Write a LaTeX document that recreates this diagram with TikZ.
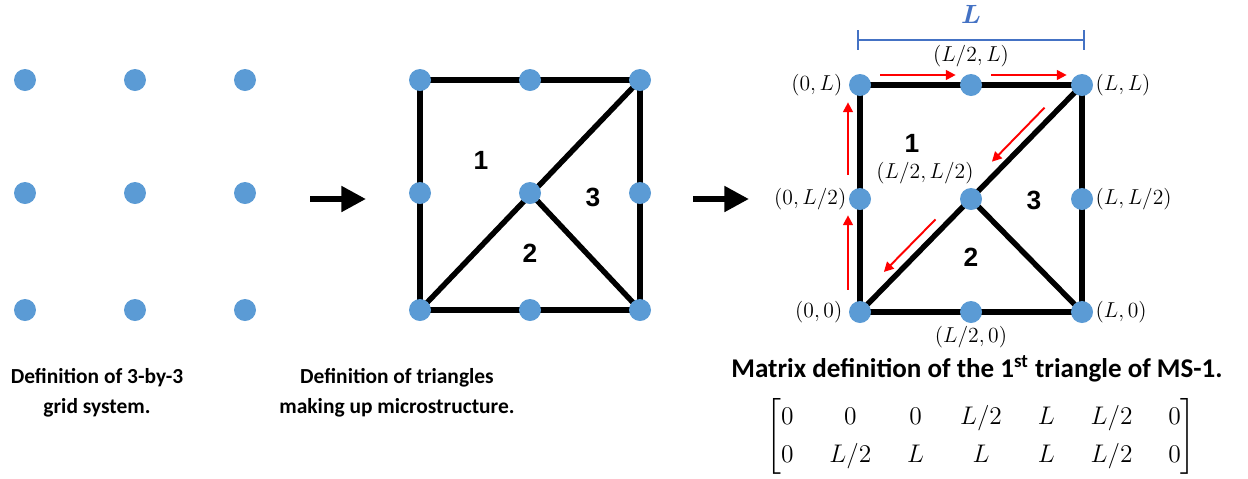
\RequirePackage{fix-cm}
\documentclass[tikz,border=0pt]{standalone}
\usepackage{amsmath}
\usepackage[no-math]{fontspec}
\newfontfamily\calibri{Carlito}
\newfontfamily\arialfont{Liberation Sans}
\usetikzlibrary{
  positioning,
  arrows.meta,
  backgrounds
}
\definecolor{dotblue}{RGB}{91,155,213}
\definecolor{dimblue}{RGB}{68,114,196}

\begin{document}
\begin{tikzpicture}[
  x=0.02cm, y=-0.02cm,
  dot/.style={circle, fill=dotblue, minimum size=0.44cm, inner sep=0pt},
  edge/.style={line width=3.1pt, black},
  num/.style={font=\arialfont\bfseries\fontsize{15}{18}\selectfont},
  coord/.style={inner sep=0pt, font=\fontsize{12.3}{14}\selectfont},
  caption/.style={align=center, font=\calibri\bfseries\fontsize{12.2}{16.8}\selectfont},
  bigarrow/.style={line width=3.4pt, -{Triangle[length=14pt, width=14pt]}},
  redarrow/.style={red, line width=1.1pt, -{Triangle[length=5.5pt, width=5.5pt]}}
]
  \useasboundingbox (0,0) rectangle (1248,478);

  % 3-by-3 grid
  \node[dot] (g11) at (25,80) {};
  \node[dot] (g21) at (135,80) {};
  \node[dot] (g31) at (245,80) {};
  \node[dot] (g12) at (25,193) {};
  \node[dot] (g22) at (135,193) {};
  \node[dot] (g32) at (245,193) {};
  \node[dot] (g13) at (25,310) {};
  \node[dot] (g23) at (135,310) {};
  \node[dot] (g33) at (245,310) {};
  \node[caption] (cap1) at (97,393) {Definition of 3-by-3\\grid system.};

  \coordinate (a1s) at (310,199);
  \coordinate (a1e) at (366,199);
  \draw[bigarrow] (a1s) -- (a1e);

  % triangles
  \node[dot] (m0L) at (420,80) {};
  \node[dot] (mhL) at (530,80) {};
  \node[dot] (mLL) at (640,80) {};
  \node[dot] (m0h) at (420,193) {};
  \node[dot] (mhh) at (530,193) {};
  \node[dot] (mLh) at (640,193) {};
  \node[dot] (m00) at (420,310) {};
  \node[dot] (mh0) at (530,310) {};
  \node[dot] (mL0) at (640,310) {};
  \begin{scope}[on background layer]
    \draw[edge] (m0L.center) -- (mLL.center) -- (mL0.center) -- (m00.center) -- cycle;
    \draw[edge] (m00.center) -- (mLL.center);
    \draw[edge] (mhh.center) -- (mL0.center);
  \end{scope}
  \node[num] (mn1) at (481,160) {1};
  \node[num] (mn2) at (530,253) {2};
  \node[num] (mn3) at (593,197) {3};
  \node[caption] (cap2) at (397,393) {Definition of triangles\\making up microstructure.};

  \coordinate (a2s) at (693,199);
  \coordinate (a2e) at (749,199);
  \draw[bigarrow] (a2s) -- (a2e);

  % matrix definition
  \node[dot] (r0L) at (860,85) {};
  \node[dot] (rhL) at (971,85) {};
  \node[dot] (rLL) at (1082,85) {};
  \node[dot] (r0h) at (860,199) {};
  \node[dot] (rhh) at (971,199) {};
  \node[dot] (rLh) at (1082,199) {};
  \node[dot] (r00) at (860,312) {};
  \node[dot] (rh0) at (971,312) {};
  \node[dot] (rL0) at (1082,312) {};
  \begin{scope}[on background layer]
    \draw[edge] (r0L.center) -- (rLL.center) -- (rL0.center) -- (r00.center) -- cycle;
    \draw[edge] (r00.center) -- (rLL.center);
    \draw[edge] (rhh.center) -- (rL0.center);
  \end{scope}
  \node[num] (rn1) at (912,143) {1};
  \node[num] (rn2) at (971,257) {2};
  \node[num] (rn3) at (1034,200) {3};

  \node[coord, left=0.12cm of r0L] (l0L) {$(0,L)$};
  \node[coord, above=0.12cm of rhL] (lhL) {$(L/2,L)$};
  \node[coord, right=0.04cm of rLL] (lLL) {$(L,L)$};
  \node[coord, left=0.04cm of r0h] (l0h) {$(0,L/2)$};
  \node[coord] (lhh) at (925,173) {$(L/2,L/2)$};
  \node[coord, right=0.04cm of rLh] (lLh) {$(L,L/2)$};
  \node[coord, left=0.12cm of r00] (l00) {$(0,0)$};
  \node[coord, below=0.06cm of rh0] (lh0) {$(L/2,0)$};
  \node[coord, right=0.04cm of rL0] (lL0) {$(L,0)$};

  \coordinate (dimA) at (857,40);
  \coordinate (dimB) at (1085,40);
  \draw[dimblue, line width=1.4pt, {Bar[width=11pt]}-{Bar[width=11pt]}] (dimA) -- (dimB);
  \node[text=dimblue, font=\fontsize{15}{17}\selectfont] (dimL) at (971,14) {$\boldsymbol{L}$};

  \draw[redarrow, transform canvas={xshift=-0.24cm}, shorten <=0.22cm, shorten >=0.1cm] (r00) -- (r0h);
  \draw[redarrow, transform canvas={xshift=-0.24cm}, shorten <=0.26cm, shorten >=0.12cm] (r0h) -- (r0L);
  \draw[redarrow, transform canvas={yshift=0.2cm}, shorten <=0.18cm, shorten >=0.08cm] (r0L) -- (rhL);
  \draw[redarrow, transform canvas={yshift=0.2cm}, shorten <=0.18cm, shorten >=0.08cm] (rhL) -- (rLL);
  \draw[redarrow, transform canvas={xshift=-0.158cm, yshift=0.154cm}, shorten <=0.62cm, shorten >=0.6cm] (rLL) -- (rhh);
  \draw[redarrow, transform canvas={xshift=-0.158cm, yshift=0.154cm}, shorten <=0.56cm, shorten >=0.68cm] (rhh) -- (r00);

  \node[caption, inner sep=0pt, font=\calibri\bfseries\fontsize{15.4}{18}\selectfont] (cap3) at (977,369)
    {Matrix definition of the 1\textsuperscript{st} triangle of MS-1.};
  \node[inner sep=0pt, font=\fontsize{14.5}{17}\selectfont] (mat) at (981,436)
    {$\renewcommand{\arraystretch}{1.25}\setlength{\arraycolsep}{10.2pt}%
      \begin{bmatrix}
        0 & 0 & 0 & L/2 & L & L/2 & 0\\
        0 & L/2 & L & L & L & L/2 & 0
      \end{bmatrix}$};
\end{tikzpicture}
\end{document}
